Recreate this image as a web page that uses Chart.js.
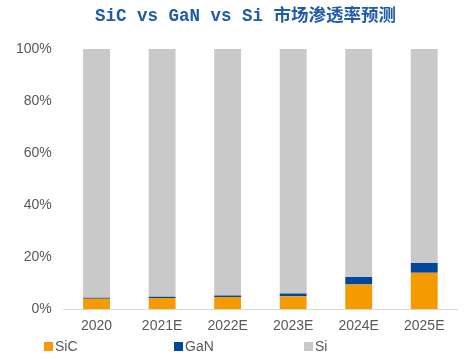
<!DOCTYPE html>
<html lang="zh">
<head>
  <meta charset="UTF-8" />
  <title>SiC vs GaN vs Si</title>
  <script src="https://cdn.jsdelivr.net/npm/chart.js"></script>
  <style>
    html, body { margin: 0; padding: 0; background: #fff; }
    #wrap { width: 466px; height: 361px; }
  </style>
</head>
<body>
  <div id="wrap"><canvas id="shareChart"></canvas></div>

  <script>
    const years = ["2020", "2021E", "2022E", "2023E", "2024E", "2025E"];
    const sicShare = [4.0, 4.3, 4.7, 5.0, 9.5, 14.0];
    const ganShare = [0.4, 0.5, 0.6, 1.0, 2.9, 3.8];
    const siShare = [95.6, 95.2, 94.7, 94.0, 87.6, 82.2];
    const yTicks = [0, 20, 40, 60, 80, 100];

    const grey = "#595959";
    const labelFont = "14px 'Liberation Sans', Arial";

    // excel style legend: equal width slots along the bottom
    const slotLegend = {
      id: "slotLegend",
      afterLayout(chart) {
        // title sits a bit right of centre in the original
        chart.titleBlock.left += 30;
      },
      afterDraw(chart) {
        const c = chart.ctx;
        const y = chart.height - 14;
        c.save();
        c.font = labelFont;
        c.textBaseline = "middle";
        chart.data.datasets.forEach((ds, i) => {
          const x = 44 + i * 130;
          c.fillStyle = ds.backgroundColor;
          c.fillRect(x, y - 5, 9, 9);
          c.fillStyle = grey;
          c.fillText(ds.label, x + 11, y);
        });
        c.restore();
      }
    };

    const ctx = document.getElementById("shareChart").getContext("2d");
    new Chart(ctx, {
      type: "bar",
      data: {
        labels: years,
        datasets: [
          { label: "SiC", data: sicShare, backgroundColor: "#F59A00" },
          { label: "GaN", data: ganShare, backgroundColor: "#00489D" },
          { label: "Si", data: siShare, backgroundColor: "#C9C9C9" }
        ]
      },
      options: {
        responsive: true,
        maintainAspectRatio: false,
        animation: false,
        layout: { padding: { left: 4, right: 9, top: 4, bottom: 17 } },
        datasets: { bar: { barPercentage: 0.41, categoryPercentage: 1 } },
        scales: {
          x: {
            stacked: true,
            grid: { display: false, drawTicks: false },
            border: { display: true, color: "#D9D9D9", width: 1 },
            ticks: { color: grey, padding: 9, font: { family: "'Liberation Sans', Arial", size: 14 } }
          },
          y: {
            stacked: true,
            min: 0,
            max: 100,
            afterBuildTicks: axis => { axis.ticks = yTicks.map(v => ({ value: v })); },
            grid: { display: false, drawTicks: false },
            border: { display: false },
            ticks: {
              color: grey,
              padding: 12,
              font: { family: "'Liberation Sans', Arial", size: 14 },
              callback: v => v + "%"
            }
          }
        },
        plugins: {
          title: {
            display: true,
            text: "SiC vs GaN vs Si 市场渗透率预测",
            color: "#1F5BA8",
            font: { family: "'Liberation Mono', 'Noto Sans CJK SC'", size: 17.5, weight: "bold" },
            padding: { top: 2, bottom: 22 }
          },
          legend: { display: false },
          tooltip: { enabled: false }
        }
      },
      plugins: [slotLegend]
    });
  </script>
</body>
</html>
